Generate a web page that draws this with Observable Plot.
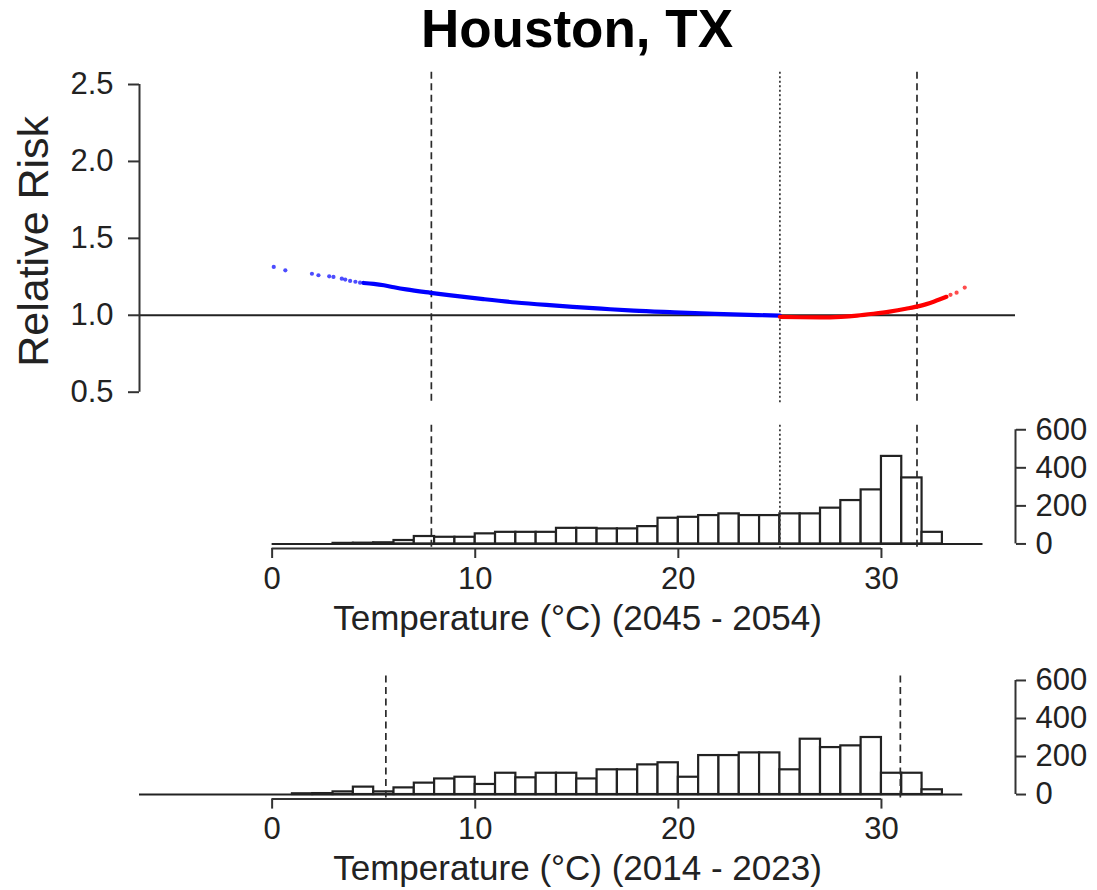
<!DOCTYPE html>
<html>
<head>
<meta charset="utf-8">
<script src="https://cdn.jsdelivr.net/npm/d3@7"></script>
<script src="https://cdn.jsdelivr.net/npm/@observablehq/plot@0.6"></script>
<style>
  body { margin: 0; background: #fff; }
  #chart { position: relative; width: 1097px; height: 890px; background: #fff; font-family: "Liberation Sans", Arial, sans-serif; }
  #chart svg { position: absolute; left: 0; overflow: visible; }
  #title { position: absolute; left: 139px; width: 876px; top: 2px; text-align: center;
           font-size: 53px; line-height: 1; font-weight: bold; color: #000; }
</style>
</head>
<body>
<div id="chart"><div id="title">Houston, TX</div></div>
<script>
// ---- Relative risk by daily temperature (°C) ----
const coldDotTemp = [0.08, 0.65, 1.96, 2.28, 2.81, 3.02, 3.43, 3.60, 3.84, 4.10, 4.33];
const coldDotRR   = [1.314, 1.292, 1.270, 1.260, 1.253, 1.249, 1.238, 1.232, 1.223, 1.218, 1.212];
const coldLineTemp = [4.5, 5.0, 5.5, 6.0, 6.6, 7.8, 8.7, 10.4, 12.0, 13.5, 14.8, 16.2, 17.8, 19.8, 21.8, 23.9, 25.0];
const coldLineRR   = [1.210, 1.204, 1.195, 1.182, 1.168, 1.146, 1.131, 1.105, 1.083, 1.067, 1.055, 1.043, 1.030, 1.019, 1.009, 1.001, 0.998];
const hotLineTemp = [25.0, 26.0, 27.0, 28.0, 28.8, 29.6, 30.4, 31.2, 31.9, 32.6, 33.2];
const hotLineRR   = [0.990, 0.987, 0.986, 0.990, 0.998, 1.010, 1.024, 1.042, 1.061, 1.090, 1.120];
const hotDotTemp = [33.4, 33.7, 34.1];
const hotDotRR   = [1.133, 1.147, 1.180];

// ---- Temperature thresholds ----
const futureDashed = [7.84, 31.75];   // 2045-2054 percentiles
const futureDotted = [25.0];          // minimum-risk temperature
const recentDashed = [5.6, 30.93];    // 2014-2023 percentiles

// ---- Daily temperature histograms (1 °C bins, lower edges) ----
const futureBins   = [0,1,2,3,4,5,6,7,8,9,10,11,12,13,14,15,16,17,18,19,20,21,22,23,24,25,26,27,28,29,30,31,32,33,34];
const futureCounts = [0,0,0,3,4,6,18,39,35,35,53,61,61,61,82,82,79,79,91,135,140,149,158,149,149,158,158,188,228,284,460,347,61,0,0];
const recentBins   = [-7,-6,-5,-4,-3,-2,-1,0,1,2,3,4,5,6,7,8,9,10,11,12,13,14,15,16,17,18,19,20,21,22,23,24,25,26,27,28,29,30,31,32,33];
const recentCounts = [0,0,0,0,0,0,0,0,4,5,14,39,14,35,60,82,91,53,112,88,112,112,82,130,130,156,167,91,205,205,219,219,130,291,247,256,300,112,112,25,0];

// ---- Axis ticks and labels ----
const rrTicks = [0.5, 1.0, 1.5, 2.0, 2.5];
const tempTicks = [0, 10, 20, 30];
const countTicks = [0, 200, 400, 600];
const titleY = "Relative Risk";
const futureLabel = "Temperature (°C) (2045 - 2054)";
const recentLabel = "Temperature (°C) (2014 - 2023)";

const FONT = "'Liberation Sans', Arial, sans-serif";
const INK = "#222";
const xDomain = [-6.53, 36.6];
const rrDomain = [0.42, 2.58];
const countDomain = [-24, 624];
const binWidth = 1;

const pts = (t, v) => t.map((d, i) => ({t: d, rr: v[i]}));
const bins = (lo, c) => lo.map((d, i) => ({x1: d, x2: d + binWidth, n: c[i]}));

const common = {
  width: 1097, marginLeft: 139, marginRight: 82,
  x: {domain: xDomain, axis: null},
  style: {fontFamily: FONT, color: INK, background: "transparent", overflow: "visible"}
};

const chart = document.getElementById("chart");
function place(svg, y) { svg.style.top = y + "px"; chart.appendChild(svg); }

// Top panel: relative risk curve
const riskPanel = Plot.plot({
  ...common, height: 420, marginTop: 71.7, marginBottom: 16,
  y: {domain: rrDomain, axis: null},
  marks: [
    Plot.ruleY([1], {stroke: "#222", strokeWidth: 2}),
    Plot.ruleX(futureDashed, {stroke: "#2a2a2a", strokeWidth: 1.7, strokeDasharray: "7,4.5"}),
    Plot.ruleX(futureDotted, {stroke: "#333", strokeWidth: 1.7, strokeDasharray: "2,2.5"}),
    Plot.line(pts(coldLineTemp, coldLineRR), {x: "t", y: "rr", stroke: "#0000ff", strokeWidth: 4.2, curve: "monotone-x"}),
    Plot.dot(pts(coldDotTemp, coldDotRR), {x: "t", y: "rr", r: 2.1, fill: "#0000ff", fillOpacity: 0.7}),
    Plot.line(pts(hotLineTemp, hotLineRR), {x: "t", y: "rr", stroke: "#ff0000", strokeWidth: 4.2, curve: "monotone-x"}),
    Plot.dot(pts(hotDotTemp, hotDotRR), {x: "t", y: "rr", r: 2.1, fill: "#ff0000", fillOpacity: 0.7}),
    Plot.ruleX([xDomain[0]], {y1: rrTicks[0], y2: rrTicks[rrTicks.length - 1], stroke: "#333", strokeWidth: 2}),
    Plot.axisY({ticks: rrTicks, tickFormat: d3.format(".1f"), tickSize: 11, tickPadding: 15,
                fontSize: 31, stroke: "#333", strokeWidth: 2, label: null}),
    Plot.text([titleY], {frameAnchor: "left", rotate: -90, dx: -105, dy: 3, textAnchor: "middle",
                         lineAnchor: "middle", fontSize: 43, fill: INK})
  ]
});
place(riskPanel, 0);

// Histogram panel builder
function histPanel(lo, counts, dashed, dotted, label) {
  const data = bins(lo, counts);
  const marks = [
    Plot.ruleY([0], {x1: data[0].x1, x2: data[data.length - 1].x2, stroke: "#222", strokeWidth: 2, clip: true}),
    Plot.rect(data.filter(d => d.n > 0), {x1: "x1", x2: "x2", y1: () => 0, y2: "n",
      fill: "#fff", stroke: "#222", strokeWidth: 2.2}),
    Plot.ruleX(dashed, {stroke: "#2a2a2a", strokeWidth: 1.7, strokeDasharray: "7,4.5"})
  ];
  if (dotted.length) marks.push(Plot.ruleX(dotted, {stroke: "#333", strokeWidth: 1.7, strokeDasharray: "2,2.5"}));
  marks.push(
    Plot.ruleY([countDomain[0]], {x1: tempTicks[0], x2: tempTicks[tempTicks.length - 1], stroke: "#333", strokeWidth: 2}),
    Plot.axisX({ticks: tempTicks, tickSize: 10, tickPadding: 8, fontSize: 31, stroke: "#333", strokeWidth: 2, label: null}),
    Plot.ruleX([xDomain[1]], {y1: countTicks[0], y2: countTicks[countTicks.length - 1], stroke: "#333", strokeWidth: 2}),
    Plot.axisY({anchor: "right", ticks: countTicks, tickSize: 10, tickPadding: 10, fontSize: 31,
                stroke: "#333", strokeWidth: 2, label: null}),
    Plot.text([label], {frameAnchor: "bottom", dy: 81, lineAnchor: "bottom", fontSize: 35, fill: INK})
  );
  return marks;
}

const futurePanel = Plot.plot({
  ...common, height: 240, marginTop: 14.7, marginBottom: 102,
  y: {domain: countDomain, axis: null},
  marks: histPanel(futureBins, futureCounts, futureDashed, futureDotted, futureLabel)
});
place(futurePanel, 410);

const recentPanel = Plot.plot({
  ...common, height: 230, marginTop: 15.4, marginBottom: 91.4,
  y: {domain: countDomain, axis: null},
  marks: histPanel(recentBins, recentCounts, recentDashed, [], recentLabel)
});
place(recentPanel, 660);
</script>
</body>
</html>
